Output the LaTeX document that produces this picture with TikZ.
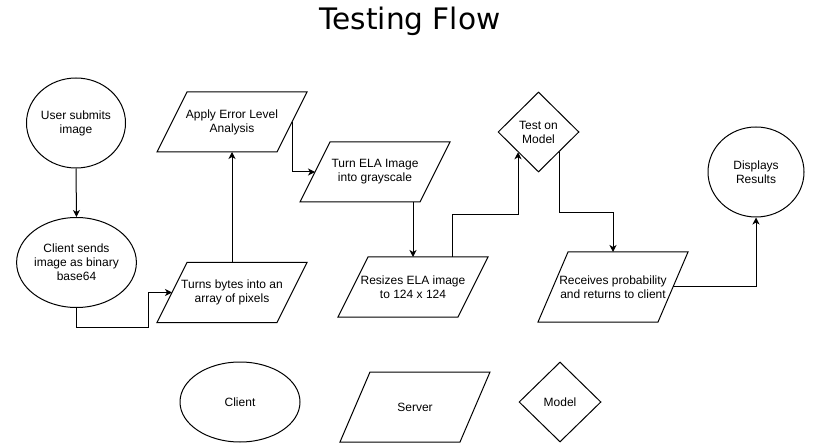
\documentclass[tikz,border=0pt]{standalone}
\usepackage{fontspec}
\setmainfont{Liberation Sans}
\newfontfamily\titlefont{DejaVu Sans}
\usetikzlibrary{shapes.geometric,arrows.meta}
\newcommand\drawpara[1]{\draw[shapeline] (#1.south west) -- ([xshift=-30pt]#1.south east) -- (#1.north east) -- ([xshift=30pt]#1.north west) -- cycle;
  \coordinate (#1L) at ([xshift=15pt]#1.west);
  \coordinate (#1R) at ([xshift=-15pt]#1.east);}
\begin{document}
\begin{tikzpicture}[x=1pt,y=-1pt,
  every node/.style={font=\fontsize{12}{14}\selectfont, align=center},
  shapeline/.style={draw=black, line width=1pt, line join=miter},
  ellipsebox/.style={ellipse, shapeline, inner sep=0pt},
  parabox/.style={rectangle, minimum width=150pt, minimum height=60pt, inner sep=0pt, outer sep=0pt},
  diamondbox/.style={diamond, shapeline, aspect=1, inner sep=0pt},
  arr/.style={draw=black, line width=1pt, -{Stealth[length=7pt,width=7pt,inset=2pt]}}]
\useasboundingbox (0,0) rectangle (821,443);
\node[anchor=base, font=\titlefont\fontsize{29.6}{32}\selectfont] (title) at (410,30) {Testing Flow};

\node[ellipsebox, minimum width=96pt, minimum height=90pt] (user) at (76,123) {User submits\\image};
\node[ellipsebox, minimum width=102pt, minimum height=90pt] (client) at (76.5,262.5) {Client sends\\image as binary\\base64};
\node[parabox] (turns) at (232,292.5) {Turns bytes into an\\array of pixels};
\drawpara{turns}
\node[parabox] (apply) at (232,122) {Apply Error Level\\Analysis};
\drawpara{apply}
\node[parabox] (ela) at (375,172) {Turn ELA Image\\into grayscale};
\drawpara{ela}
\node[parabox] (resizes) at (413,287) {Resizes ELA image\\to 124 x 124};
\drawpara{resizes}
\node[diamondbox, minimum width=81pt, minimum height=80pt] (test) at (538.5,132) {Test on\\Model};
\node[parabox, minimum height=70pt] (receives) at (613,287) {Receives probability\\and returns to client};
\drawpara{receives}
\node[ellipsebox, minimum width=96pt, minimum height=90pt] (displays) at (756,172) {Displays\\Results};

\node[ellipsebox, minimum width=120pt, minimum height=80pt] (lclient) at (240,402) {Client};
\node[parabox, minimum height=70pt] (lserver) at (415,407) {Server};
\drawpara{lserver}
\node[diamondbox, minimum width=82pt, minimum height=80pt] (lmodel) at (560,402) {Model};

\draw[arr] (user.south) -- (client.north);
\draw[arr] (client.south) -- ++(0,19) -| ([xshift=-24pt]turnsL) -- (turnsL);
\draw[arr] (turns.north) -- (apply.south);
\draw[arr] (applyR) |- (elaL);
\draw[arr] (resizes.north |- ela.south) -- (resizes.north);
\draw[arr] ([xshift=39pt]resizes.north) -- ++(0,-42) -| (test.south west);
\draw[arr] (test.south east) -- ++(0,60) -| (receives.north);
\draw[arr] (receivesR) -| (displays.south);
\end{tikzpicture}
\end{document}
